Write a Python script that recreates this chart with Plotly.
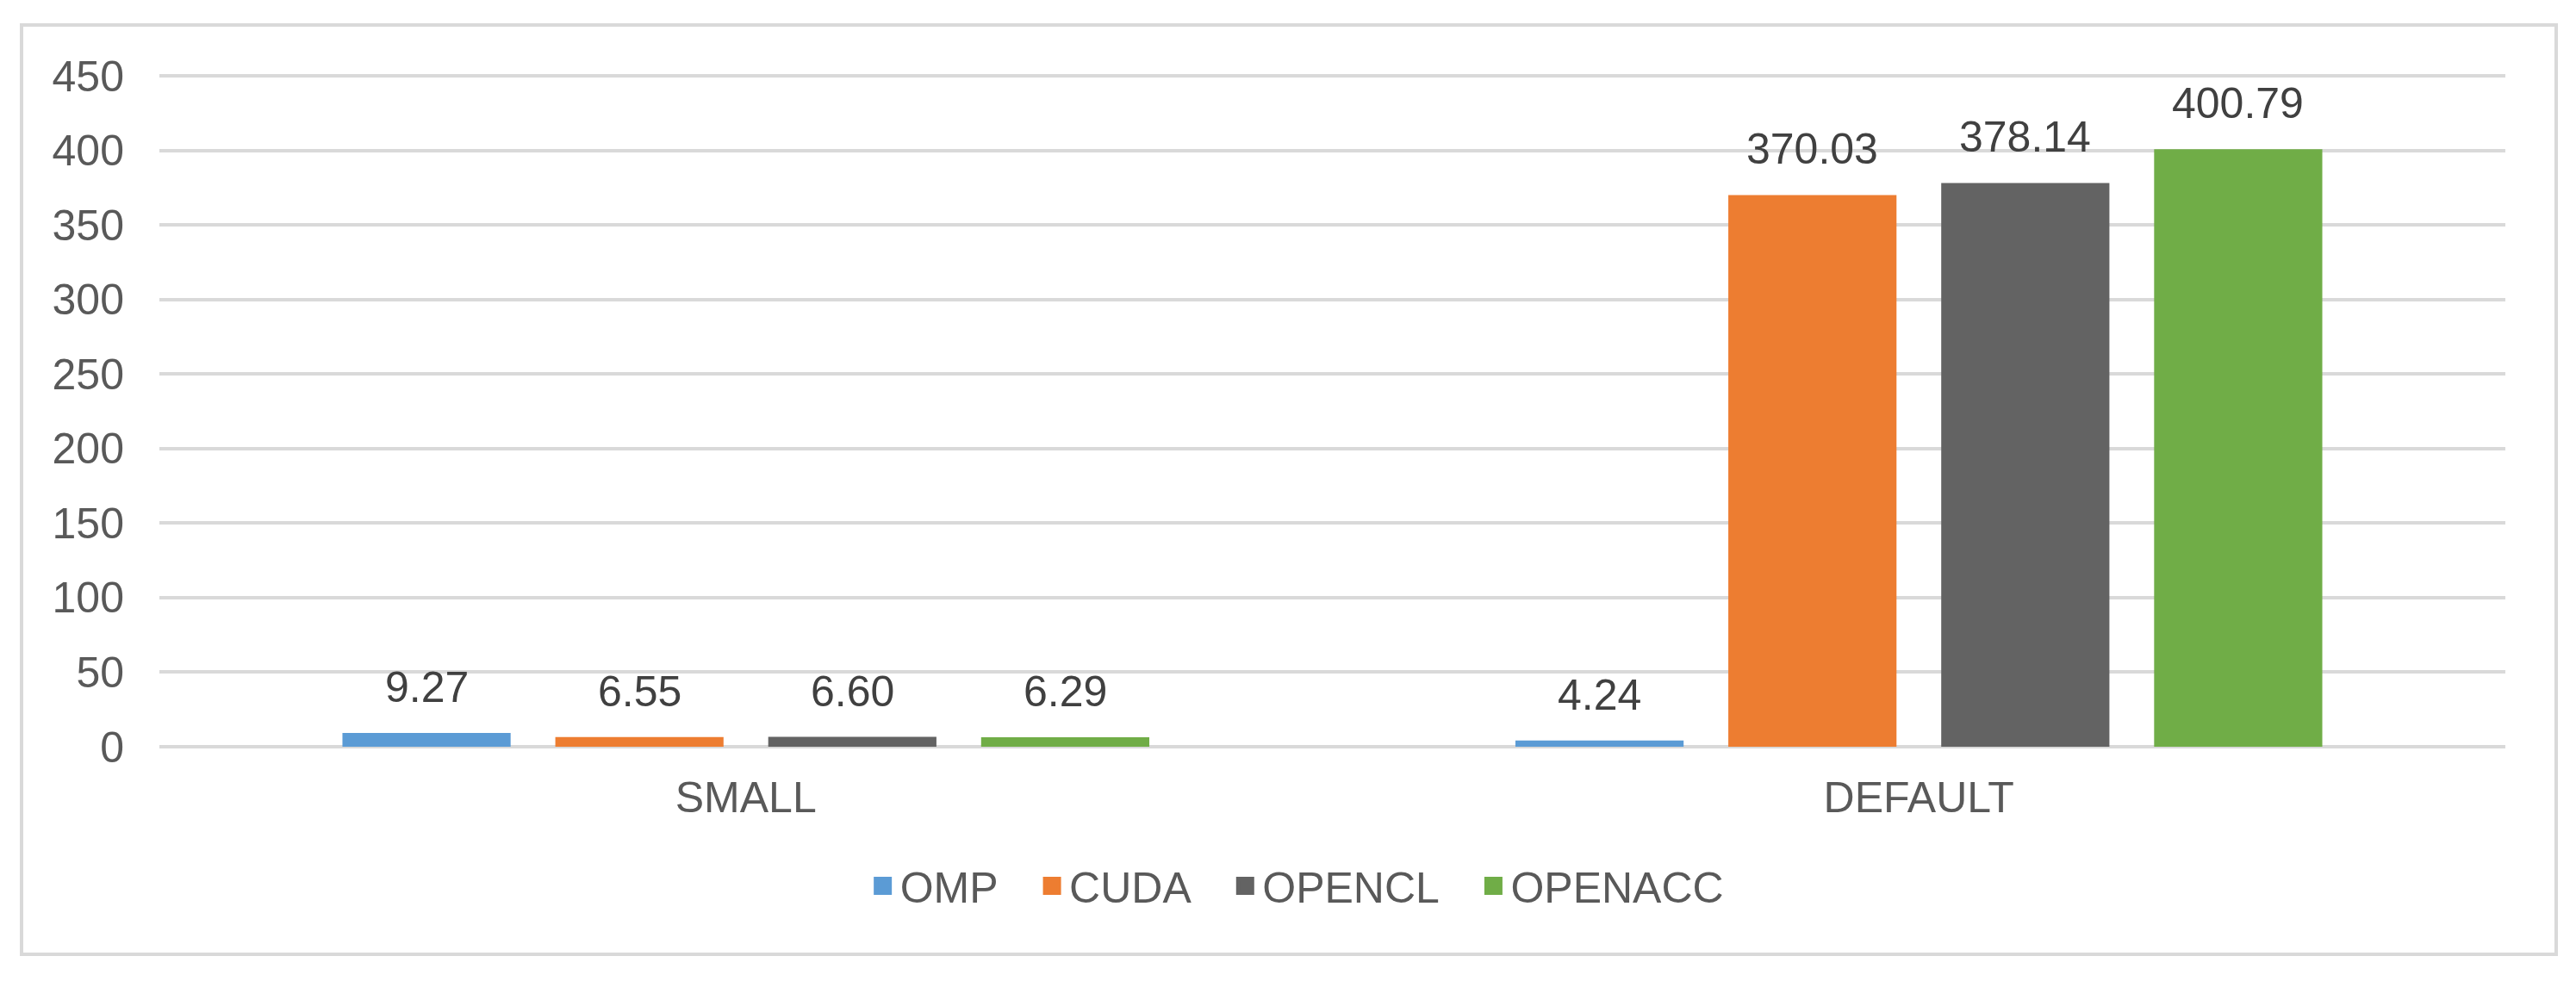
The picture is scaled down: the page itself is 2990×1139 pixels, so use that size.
import plotly.graph_objects as go

categories = ["SMALL", "DEFAULT"]
series_names = ["OMP", "CUDA", "OPENCL", "OPENACC"]
omp = [9.27, 4.24]
cuda = [6.55, 370.03]
opencl = [6.60, 378.14]
openacc = [6.29, 400.79]
y_ticks = [0, 50, 100, 150, 200, 250, 300, 350, 400, 450]

colors = ["#5B9BD5", "#ED7D31", "#636363", "#70AD47"]
values = [omp, cuda, opencl, openacc]

FONT = "Liberation Sans, Arial, sans-serif"
BARGAP = 0.274
BARGROUPGAP = 0.21
YMAX = 450.6  # a hair above 450 so the top gridline is drawn

# the html body adds an 8px margin, so the figure is drawn 8px smaller/shifted
OFF = 8
W, H = 2990 - OFF, 1139 - OFF
ML, MT = 185 - OFF, 87 - OFF
PW, PH = 2723, 780
MR, MB = W - ML - PW, H - MT - PH

fig = go.Figure()
for name, vals, col in zip(series_names, values, colors):
    fig.add_trace(go.Bar(x=categories, y=vals, name=name, marker_color=col,
                         marker_line_width=0, showlegend=False))
# legend-only entries with bigger square symbols
PAD = "<span style='font-size:45px'>\u00a0\u00a0\u00a0</span>"
for i, (name, col) in enumerate(zip(series_names, colors)):
    label = name + (PAD if i < len(series_names) - 1 else "")
    fig.add_trace(go.Scatter(x=[None], y=[None], mode="markers", name=label,
                             marker=dict(symbol="square", size=16, color=col,
                                         line=dict(color=col, width=5))))

# data labels above each bar
n = len(series_names)
slot = (1 - BARGAP) / n
annotations = []
for i, vals in enumerate(values):
    off = (i - (n - 1) / 2) * slot
    for c, v in enumerate(vals):
        annotations.append(dict(x=c + off, y=v, xref="x", yref="y",
                                text=f"{v:.2f}", showarrow=False,
                                yanchor="middle", yshift=53,
                                font=dict(family=FONT, size=50, color="#404040")))

def px_x(p):
    return (p - OFF - ML) / PW

def px_y(p):
    return (MT + PH - (p - OFF)) / PH

fig.update_layout(
    width=W, height=H, autosize=False,
    margin=dict(l=ML, r=MR, t=MT, b=MB),
    paper_bgcolor="white", plot_bgcolor="white",
    barmode="group", bargap=BARGAP, bargroupgap=BARGROUPGAP,
    font=dict(family=FONT, size=50, color="#595959"),
    annotations=annotations,
    legend=dict(orientation="h", x=0.485, xanchor="center", y=-0.207,
                yanchor="middle", font=dict(family=FONT, size=50, color="#595959"),
                bgcolor="rgba(0,0,0,0)", itemclick=False),
    shapes=[dict(type="rect", xref="paper", yref="paper",
                 x0=px_x(25), x1=px_x(2967), y0=px_y(1108), y1=px_y(29),
                 line=dict(color="#D9D9D9", width=4), layer="below")],
)
fig.update_xaxes(showgrid=False, showline=False, zeroline=False, ticks="",
                 tickfont=dict(family=FONT, size=50, color="#595959"),
                 ticklabelstandoff=25)
fig.update_yaxes(range=[0, YMAX], tickvals=y_ticks, showgrid=True,
                 gridcolor="#D9D9D9", gridwidth=4, zeroline=True,
                 zerolinecolor="#D9D9D9", zerolinewidth=4, showline=False,
                 ticks="", tickfont=dict(family=FONT, size=50, color="#595959"),
                 ticklabelstandoff=40)

fig.write_html("out.html")
